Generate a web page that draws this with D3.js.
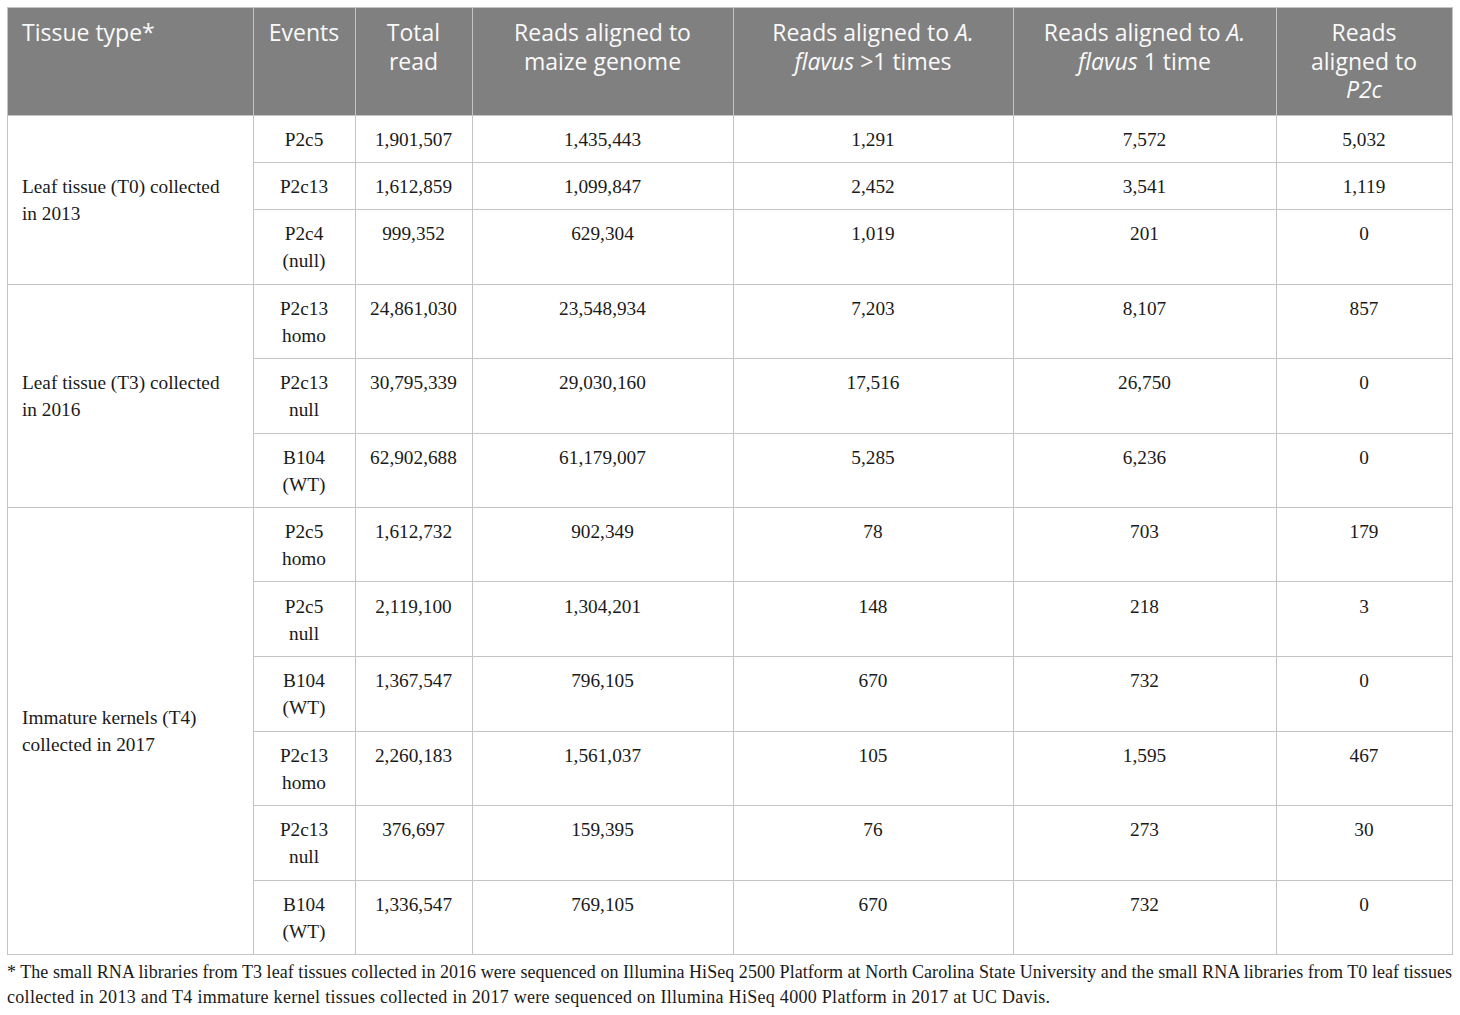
<!DOCTYPE html>
<html>
<head>
<meta charset="utf-8">
<script src="https://cdn.jsdelivr.net/npm/d3@7"></script>
<style>
    body { margin: 0; background: #fff; }
    svg { display: block; }
</style>
</head>
<body>
<svg id="table" width="1460" height="1015"></svg>
<script>
let tissueTypes = [
    ["Leaf tissue (T0) collected", "in 2013"],
    ["Leaf tissue (T3) collected", "in 2016"],
    ["Immature kernels (T4)", "collected in 2017"]
];
let groupSizes = [3, 3, 6];

let events = ["P2c5", "P2c13", "P2c4 (null)",
    "P2c13 homo", "P2c13 null", "B104 (WT)",
    "P2c5 homo", "P2c5 null", "B104 (WT)", "P2c13 homo", "P2c13 null", "B104 (WT)"];
let totalRead = [1901507, 1612859, 999352, 24861030, 30795339, 62902688,
    1612732, 2119100, 1367547, 2260183, 376697, 1336547];
let maizeReads = [1435443, 1099847, 629304, 23548934, 29030160, 61179007,
    902349, 1304201, 796105, 1561037, 159395, 769105];
let flavusMulti = [1291, 2452, 1019, 7203, 17516, 5285, 78, 148, 670, 105, 76, 670];
let flavusOnce = [7572, 3541, 201, 8107, 26750, 6236, 703, 218, 732, 1595, 273, 732];
let p2cReads = [5032, 1119, 0, 857, 0, 0, 179, 3, 0, 467, 30, 0];

// header lines; each line is a list of [text, italic] pieces
let headers = [
    [[["Tissue type*", false]]],
    [[["Events", false]]],
    [[["Total", false]], [["read", false]]],
    [[["Reads aligned to", false]], [["maize genome", false]]],
    [[["Reads aligned to ", false], ["A.", true]], [["flavus", true], [" >1 times", false]]],
    [[["Reads aligned to ", false], ["A.", true]], [["flavus", true], [" 1 time", false]]],
    [[["Reads", false]], [["aligned to", false]], [["P2c", true]]]
];

let footnote = [
    "* The small RNA libraries from T3 leaf tissues collected in 2016 were sequenced on Illumina HiSeq 2500 Platform at North Carolina State University and the small RNA libraries from T0 leaf tissues",
    "collected in 2013 and T4 immature kernel tissues collected in 2017 were sequenced on Illumina HiSeq 4000 Platform in 2017 at UC Davis."
];

// ---- layout ----
let colEdges = [7, 253, 355, 472, 733, 1013, 1276, 1452];
let tableTop = 7, headBottom = 115, tableBottom = 954;
let lineColor = "#c4c4c4";
let headFont = "'Open Sans', sans-serif";
let bodyFont = "'Liberation Serif', 'Times New Roman', serif";
let fmt = d3.format(",");

let svg = d3.select("#table");

// rows: height grows with the number of text lines in the Events column
let rows = events.map(function (e, i) {
    return {
        lines: e.split(" "),
        cells: [totalRead[i], maizeReads[i], flavusMulti[i], flavusOnce[i], p2cReads[i]]
    };
});
let units = rows.map(function (r) { return 47 + 27.5 * (r.lines.length - 1); });
let cum = [0];
units.forEach(function (u) { cum.push(cum[cum.length - 1] + u); });

let yScale = d3.scaleLinear()
    .domain([0, cum[cum.length - 1]])
    .range([headBottom, tableBottom]);

let colMid = function (c) { return (colEdges[c] + colEdges[c + 1]) / 2; };

// header background
svg.append("rect")
    .attr("x", colEdges[0]).attr("y", tableTop)
    .attr("width", colEdges[7] - colEdges[0]).attr("height", headBottom - tableTop)
    .attr("fill", "#808080");

// header text
headers.forEach(function (lines, c) {
    let t = svg.append("text")
        .attr("font-family", headFont)
        .attr("font-size", 23)
        .attr("fill", "#fafafa")
        .attr("text-anchor", c === 0 ? "start" : "middle");
    lines.forEach(function (pieces, li) {
        pieces.forEach(function (p, pi) {
            let ts = t.append("tspan").text(p[0]);
            if (pi === 0) {
                ts.attr("x", c === 0 ? 22 : colMid(c))
                  .attr("y", 41 + li * 28.5);
            }
            if (p[1]) ts.attr("font-style", "italic");
        });
    });
});

// tissue type group labels (vertically centred in their block)
let start = 0;
tissueTypes.forEach(function (lines, g) {
    let y0 = yScale(cum[start]);
    let y1 = yScale(cum[start + groupSizes[g]]);
    let mid = (y0 + y1) / 2;
    svg.append("g").selectAll("text")
        .data(lines)
        .join("text")
        .attr("x", 22)
        .attr("y", function (d, i) { return mid + 7 + (i - (lines.length - 1) / 2) * 27; })
        .attr("font-family", bodyFont)
        .attr("font-size", 19.3)
        .attr("fill", "#1a1a1a")
        .text(function (d) { return d; });
    start += groupSizes[g];
});

// body cells
let rowG = svg.append("g").selectAll("g")
    .data(rows)
    .join("g")
    .attr("transform", function (d, i) { return "translate(0," + yScale(cum[i]) + ")"; });

rowG.selectAll("text.ev")
    .data(function (d) { return d.lines; })
    .join("text")
    .attr("class", "ev")
    .attr("x", colMid(1))
    .attr("y", function (d, i) { return 31 + i * 27; })
    .attr("text-anchor", "middle")
    .attr("font-family", bodyFont)
    .attr("font-size", 19.3)
    .attr("fill", "#1a1a1a")
    .text(function (d) { return d; });

rowG.selectAll("text.val")
    .data(function (d) { return d.cells; })
    .join("text")
    .attr("class", "val")
    .attr("x", function (d, i) { return colMid(i + 2); })
    .attr("y", 31)
    .attr("text-anchor", "middle")
    .attr("font-family", bodyFont)
    .attr("font-size", 19.3)
    .attr("fill", "#1a1a1a")
    .text(function (d) { return fmt(d); });

// grid lines
let grid = svg.append("g")
    .attr("stroke", lineColor)
    .attr("stroke-width", 1)
    .attr("shape-rendering", "crispEdges");

// horizontal: top, header bottom, group boundaries across full width, inner rows from col 1
grid.append("line")
    .attr("x1", colEdges[0]).attr("x2", colEdges[7])
    .attr("y1", tableTop + 0.5).attr("y2", tableTop + 0.5);
let groupEnds = Array.from(d3.cumsum(groupSizes));
cum.forEach(function (c, i) {
    let full = i === 0 || groupEnds.indexOf(i) >= 0;
    let y = Math.round(yScale(c)) + 0.5;
    grid.append("line")
        .attr("x1", full ? colEdges[0] : colEdges[1]).attr("x2", colEdges[7])
        .attr("y1", y).attr("y2", y);
});

// vertical lines
colEdges.forEach(function (x) {
    grid.append("line")
        .attr("x1", x + 0.5).attr("x2", x + 0.5)
        .attr("y1", tableTop).attr("y2", tableBottom + 0.5);
});

// footnote: first line justified to the table width, second ends near x=1050
let fnWidths = [colEdges[7] - colEdges[0], 1043];
let fn = svg.append("g")
    .attr("font-family", bodyFont)
    .attr("font-size", 18)
    .attr("fill", "#1a1a1a");
fn.selectAll("text")
    .data(footnote)
    .join("text")
    .attr("x", colEdges[0])
    .attr("y", function (d, i) { return 978 + i * 24.5; })
    .text(function (d) { return d; })
    .each(function (d, i) {
        let self = d3.select(this);
        let natural = this.getComputedTextLength();
        self.attr("textLength", fnWidths[i])
            .attr("lengthAdjust", natural > fnWidths[i] ? "spacingAndGlyphs" : "spacing");
    });
</script>
</body>
</html>
